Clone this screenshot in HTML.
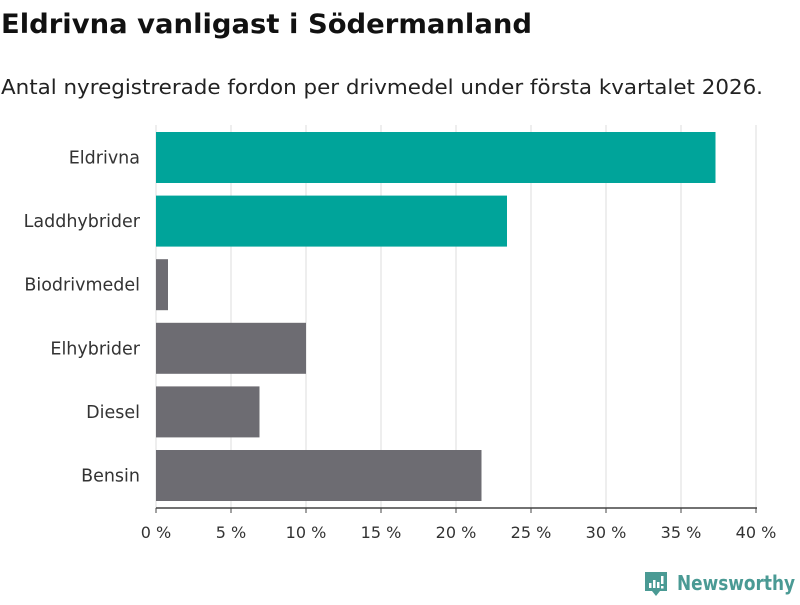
<!DOCTYPE html>
<html><head><meta charset="utf-8"><style>
body{margin:0;background:#fff;width:800px;height:600px;overflow:hidden}
svg{font-family:"DejaVu Sans","Liberation Sans",sans-serif}
</style></head><body>
<svg id="c" width="800" height="600">
<text x="1" y="33" font-size="27" font-weight="bold" fill="#111" textLength="531" lengthAdjust="spacingAndGlyphs">Eldrivna vanligast i Södermanland</text>
<text x="1" y="94" font-size="20" fill="#222" textLength="762" lengthAdjust="spacingAndGlyphs">Antal nyregistrerade fordon per drivmedel under första kvartalet 2026.</text>
<g id="grid"></g><g id="bars"></g><g id="axis"></g>
<g>
<path d="M645 572h22v19h-7l-4 5-4-5h-7z" fill="#4a9a94"/>
<rect x="649" y="583" width="2.5" height="5" fill="#fff"/><rect x="653" y="580" width="2.5" height="8" fill="#fff"/><rect x="657" y="582" width="2.5" height="6" fill="#fff"/><rect x="661" y="576" width="2.5" height="8" fill="#fff"/><rect x="661" y="586" width="2.5" height="2.5" fill="#fff"/>
<text x="677" y="590" font-size="20" font-weight="600" fill="#4a9a94" textLength="118" lengthAdjust="spacingAndGlyphs">Newsworthy</text>
</g>
</svg>
<script>
const categories=["Eldrivna","Laddhybrider","Biodrivmedel","Elhybrider","Diesel","Bensin"];
const values=[37.3,23.4,0.8,10.0,6.9,21.7];
const highlight=[true,true,false,false,false,false];
const ticks=[0,5,10,15,20,25,30,35,40];
const NS="http://www.w3.org/2000/svg";
const x=v=>156+v*15;
const band=63.6, top0=125.5;
const y=i=>top0+i*band;
function mk(t,a,p){const e=document.createElementNS(NS,t);for(const k in a)e.setAttribute(k,a[k]);p.appendChild(e);return e;}
const g=document.getElementById('grid'),b=document.getElementById('bars'),ax=document.getElementById('axis');
ticks.forEach(t=>{
 const l=mk('line',{x1:x(t),x2:x(t),y1:125,y2:508,stroke:'#ddd','stroke-width':1},g);
 
 
 const tk=mk('line',{x1:x(t),x2:x(t),y1:508,y2:513,stroke:'#444','stroke-width':1},ax);
 
 
 const tx=mk('text',{x:x(t),y:538,'font-size':16,fill:'#333','text-anchor':'middle'},ax);
 tx.textContent=t+' %';
 
 
});
const al=mk('line',{x1:156,x2:757,y1:508,y2:508,stroke:'#444','stroke-width':1.5},ax);


categories.forEach((c,i)=>{
 const r=mk('rect',{x:x(0),y:y(i)+6.5,width:x(values[i])-x(0),height:51,fill:highlight[i]?'#00a49a':'#6d6c72'},b);
 
 
 const t=mk('text',{x:140,y:y(i)+38,'font-size':17.5,fill:'#333','text-anchor':'end'},b);
 t.textContent=c;
 
 
});
</script>
</body></html>
